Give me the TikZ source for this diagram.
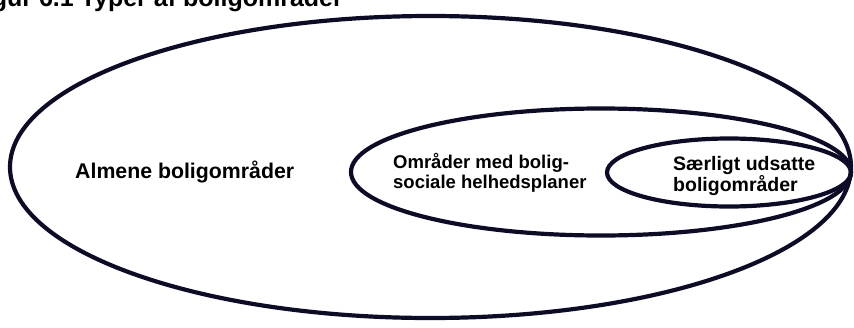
\documentclass[tikz,border=0pt]{standalone}
\usepackage{fontspec}
\setmainfont{Liberation Sans}
\usetikzlibrary{shapes.geometric}
\definecolor{ink}{RGB}{12,12,40}
\begin{document}
\begin{tikzpicture}[x=1pt,y=-1pt,
  ring/.style={draw=ink, line width=4.2pt, ellipse, inner sep=0pt, outer sep=0pt},
  lbl/.style={font=\bfseries\fontsize{18.5}{20}\selectfont, align=left, inner sep=0pt, text=black}]
\useasboundingbox (0,0) rectangle (854,327);
\node[ring, minimum width=841pt, minimum height=302pt] (outer) at (430.5,167) {};
\node[ring, minimum width=500pt, minimum height=127pt] (middle) at (601,172) {};
\node[ring, minimum width=244pt, minimum height=68pt] (inner) at (729,172.5) {};
\node[font=\bfseries\fontsize{25}{28}\selectfont, anchor=base east, inner sep=0pt] (title) at (343,6.5) {Figur 6.1 Typer af boligområder};
\node[lbl, font=\bfseries\fontsize{21.3}{24}\selectfont, anchor=west] (almene) at (75,172) {Almene boligområder};
\node[lbl, anchor=west] (omr) at (393,173) {Områder med bolig-\\sociale helhedsplaner};
\node[lbl, font=\bfseries\fontsize{19.5}{20}\selectfont, anchor=west] (saer) at (673,176) {Særligt udsatte\\boligområder};
\end{tikzpicture}
\end{document}
